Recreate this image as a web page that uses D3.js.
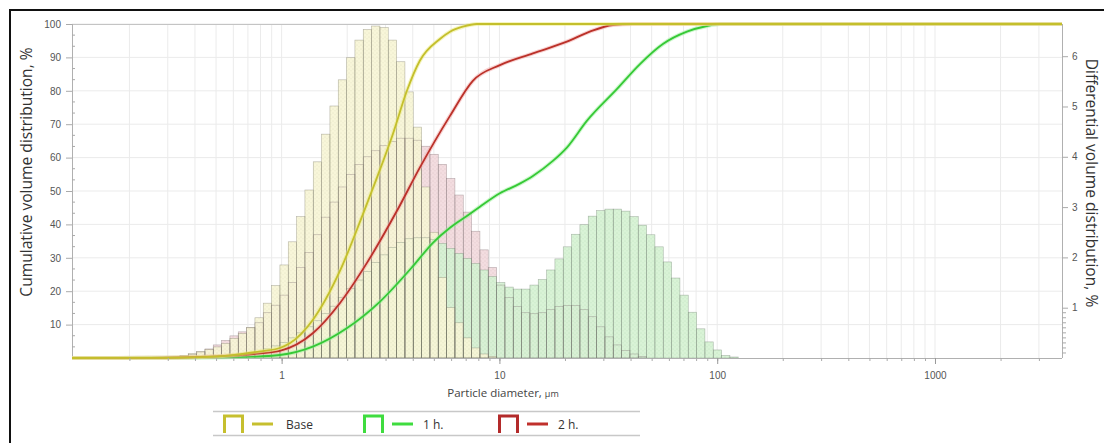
<!DOCTYPE html>
<html>
<head>
<meta charset="utf-8">
<script src="https://cdn.jsdelivr.net/npm/d3@7"></script>
<style>
  body { margin: 0; background: #fff; }
  svg { display: block; font-family: "Open Sans", sans-serif; }
</style>
</head>
<body>
<svg id="chart"></svg>
<script>
// size classes: lower edge of the first class and the ratio between classes
var binStart = 0.3412,
    binRatio = 1.0921;

// differential volume, % per class (67 classes)
var baseDiff = [0.05,0.09,0.13,0.17,0.22,0.29,0.39,0.49,0.61,0.80,1.09,1.44,1.85,2.31,2.81,3.34,3.90,4.45,5.01,5.53,
  5.97,6.32,6.53,6.60,6.57,6.32,5.89,5.29,4.59,3.40,2.50,1.60,1.00,0.70,0.40,0.20,0.08,0.03,
  0,0,0,0,0,0,0,0,0,0,0,0,0,0,0,0,0,0,0,0,0,0,0,0,0,0,0,0,0];
var h1Diff = [0.01,0.01,0.02,0.02,0.02,0.03,0.04,0.06,0.09,0.13,0.18,0.24,0.31,0.40,0.50,0.62,0.74,0.88,1.03,1.20,
  1.38,1.55,1.72,1.90,2.05,2.20,2.30,2.37,2.39,2.39,2.36,2.28,2.18,2.08,1.98,1.88,1.75,1.62,1.50,1.41,
  1.37,1.37,1.45,1.56,1.75,1.97,2.21,2.46,2.65,2.82,2.93,2.96,2.96,2.92,2.81,2.64,2.45,2.21,1.91,1.59,
  1.25,0.91,0.58,0.32,0.16,0.05,0.02];
var h2Diff = [0.04,0.07,0.12,0.18,0.26,0.35,0.44,0.52,0.60,0.70,0.90,1.05,1.25,1.50,1.80,2.10,2.45,2.80,3.10,3.40,
  3.65,3.85,4.00,4.12,4.22,4.30,4.37,4.37,4.33,4.21,4.05,3.85,3.57,3.24,2.90,2.52,2.15,1.80,1.45,1.20,
  1.02,0.90,0.88,0.90,0.96,1.02,1.04,1.04,0.96,0.82,0.62,0.42,0.26,0.15,0.08,0.03,
  0,0,0,0,0,0,0,0,0,0,0];

// cumulative volume, %
var baseCumD = [0.109,0.25,0.38,0.58,0.80,0.98,1.09,1.39,1.85,2.36,2.74,3.24,3.76,4.31,5.33,5.93,6.80,7.88,3830];
var baseCumV = [0,0.05,0.2,0.8,2.0,3.0,4.4,11.4,26,43,54,67,80,89,95.5,97.7,99.2,100,100];
var h1CumD = [0.109,0.34,0.72,0.98,1.39,1.99,2.83,4.01,4.95,5.93,7.09,8.14,10.05,12.4,14.25,17.6,20.4,25.2,34.6,44.2,56.3,72.6,89.7,103,3830];
var h1CumV = [0,0.1,0.4,0.9,3.4,8.9,16.9,27.5,34.5,39,42.5,45.3,49.3,52.2,54.5,59,63,71,80.5,88,94,97.7,99.4,100,100];
var h2CumD = [0.109,0.25,0.42,0.58,0.80,0.98,1.39,1.85,2.46,3.38,4.31,5.93,7.55,10.05,14.25,20.4,26.0,33.2,41.0,3830];
var h2CumV = [0,0.05,0.3,0.7,1.4,2.1,7.4,16.4,28.4,44,57,72.5,83,87.7,91.2,94.7,97.7,99.7,100,100];

var xTicks = [1, 10, 100, 1000];
var yTicks = [10, 20, 30, 40, 50, 60, 70, 80, 90, 100];
var y2Ticks = [1, 2, 3, 4, 5, 6];

var seriesNames = ["Base", "1 h.", "2 h."];

var w = 1104, h = 443;
var plotL = 72, plotR = 1062, plotT = 24, plotB = 358;

var svg = d3.select("#chart").attr("width", w).attr("height", h);

var x = d3.scaleLog().domain([0.109, 3830]).range([plotL, plotR]);
var y = d3.scaleLinear().domain([0, 100]).range([plotB, plotT]);
var y2 = d3.scaleLinear().domain([0, 6.64]).range([plotB, plotT]);

// minor positions 1..9 per decade
var minor = [];
[0.1, 1, 10, 100, 1000].forEach(function(dec){
  for (var m = 1; m < 10; m++) {
    var v = dec * m;
    if (v > 0.109 && v < 3830) minor.push(v);
  }
});

// dotted fills
var defs = svg.append("defs");
function dots(id, bg, dot) {
  var p = defs.append("pattern").attr("id", id)
    .attr("patternUnits", "userSpaceOnUse").attr("width", 4).attr("height", 4);
  p.append("rect").attr("width", 4).attr("height", 4).attr("fill", bg);
  p.append("circle").attr("cx", 1).attr("cy", 1).attr("r", 0.45).attr("fill", dot);
  p.append("circle").attr("cx", 3).attr("cy", 2.8).attr("r", 0.4).attr("fill", dot);
}
dots("pBase", "#f7f5d6", "#d0cca2");
dots("p1h", "#d6f2d3", "#9dcd9d");
dots("p2h", "#f2dadd", "#c9a3a9");

// outer frame
svg.append("line").attr("x1", 9).attr("x2", w).attr("y1", 10).attr("y2", 10)
  .attr("stroke", "#111").attr("stroke-width", 2);
svg.append("line").attr("x1", 10).attr("x2", 10).attr("y1", 10).attr("y2", h)
  .attr("stroke", "#111").attr("stroke-width", 2);

// grid
var grid = svg.append("g").attr("class", "grid");
grid.selectAll(".vg").data(minor).enter().append("line")
  .attr("x1", function(d){ return x(d); }).attr("x2", function(d){ return x(d); })
  .attr("y1", plotT).attr("y2", plotB)
  .attr("stroke", "#ebebeb").attr("stroke-width", 1);
grid.selectAll(".hg").data(yTicks).enter().append("line")
  .attr("x1", plotL).attr("x2", plotR)
  .attr("y1", function(d){ return y(d); }).attr("y2", function(d){ return y(d); })
  .attr("stroke", "#ebebeb").attr("stroke-width", 1);

// histogram bars: fills first (2 h., 1 h., Base on top), outlines of all after
function bins(vals) {
  return vals.map(function(v, i){
    return { x0: binStart * Math.pow(binRatio, i), x1: binStart * Math.pow(binRatio, i + 1), v: v };
  }).filter(function(d){ return d.v > 0; });
}
function bars(vals, fill, stroke) {
  svg.append("g").selectAll("rect").data(bins(vals)).enter().append("rect")
    .attr("x", function(d){ return x(d.x0); })
    .attr("width", function(d){ return x(d.x1) - x(d.x0); })
    .attr("y", function(d){ return y2(d.v); })
    .attr("height", function(d){ return plotB - y2(d.v); })
    .attr("fill", fill).attr("fill-opacity", 0.92)
    .attr("stroke", stroke).attr("stroke-opacity", 0.55).attr("stroke-width", 0.6);
}
bars(h2Diff, "url(#p2h)", "none");
bars(h1Diff, "url(#p1h)", "none");
bars(baseDiff, "url(#pBase)", "none");
bars(h2Diff, "none", "#806f72");
bars(h1Diff, "none", "#6f806f");
bars(baseDiff, "none", "#7c7a66");

// axes frame
svg.append("line").attr("x1", plotL).attr("x2", plotR).attr("y1", plotT + 0.5).attr("y2", plotT + 0.5)
  .attr("stroke", "#c4c4c4");
svg.append("line").attr("x1", plotL).attr("x2", plotR).attr("y1", plotB + 0.5).attr("y2", plotB + 0.5)
  .attr("stroke", "#b0b0b0");
svg.append("line").attr("x1", plotL + 0.5).attr("x2", plotL + 0.5).attr("y1", plotT).attr("y2", plotB)
  .attr("stroke", "#b0b0b0");
svg.append("line").attr("x1", plotR + 0.5).attr("x2", plotR + 0.5).attr("y1", plotT).attr("y2", plotB)
  .attr("stroke", "#b0b0b0");

// cumulative curves
var line = d3.line()
  .x(function(d){ return x(d[0]); })
  .y(function(d){ return y(d[1]); })
  .curve(d3.curveMonotoneX);
function curve(ds, vs, halo, col) {
  var pts = ds.map(function(d, i){ return [d, vs[i]]; });
  svg.append("path").datum(pts).attr("d", line).attr("fill", "none")
    .attr("stroke", halo).attr("stroke-width", 4).attr("stroke-opacity", 0.5);
  svg.append("path").datum(pts).attr("d", line).attr("fill", "none")
    .attr("stroke", col).attr("stroke-width", 1.8);
}
curve(h1CumD, h1CumV, "#9af09a", "#36c936");
curve(h2CumD, h2CumV, "#f2a8a8", "#bb3129");
curve(baseCumD, baseCumV, "#ecec80", "#c4bf2c");

// left axis
var yAxis = d3.axisLeft(y).tickValues(yTicks).tickSize(6).tickPadding(5).tickFormat(d3.format("d"));
var gy = svg.append("g").attr("transform", "translate(" + plotL + ",0)").call(yAxis);
gy.select(".domain").remove();
gy.selectAll(".tick line").attr("stroke", "#aaa");
gy.selectAll("text").attr("fill", "#555").attr("font-size", 10);
var yMinor = [];
yTicks.concat([0]).forEach(function(t){ if (t < 100) { yMinor.push(t + 10 / 3); yMinor.push(t + 20 / 3); } });
svg.append("g").selectAll("line").data(yMinor).enter().append("line")
  .attr("x1", plotL).attr("x2", plotL + 3)
  .attr("y1", function(d){ return y(d); }).attr("y2", function(d){ return y(d); })
  .attr("stroke", "#aaa");

// right axis
var y2Axis = d3.axisRight(y2).tickValues(y2Ticks).tickSize(6).tickPadding(4).tickFormat(d3.format("d"));
var gy2 = svg.append("g").attr("transform", "translate(" + plotR + ",0)").call(y2Axis);
gy2.select(".domain").remove();
gy2.selectAll(".tick line").attr("stroke", "#aaa");
gy2.selectAll("text").attr("fill", "#555").attr("font-size", 10);
svg.append("g").selectAll("line").data(d3.range(1, 10).map(function(i){ return i / 10; }))
  .enter().append("line")
  .attr("x1", plotR).attr("x2", plotR + 4)
  .attr("y1", function(d){ return y2(d); }).attr("y2", function(d){ return y2(d); })
  .attr("stroke", "#aaa");

// bottom axis
var xAxisMinor = d3.axisBottom(x).tickValues(minor).tickSize(3).tickFormat("");
var gxm = svg.append("g").attr("transform", "translate(0," + plotB + ")").call(xAxisMinor);
gxm.select(".domain").remove();
gxm.selectAll(".tick line").attr("stroke", "#aaa");
var xAxis = d3.axisBottom(x).tickValues(xTicks).tickSize(6).tickPadding(8).tickFormat(d3.format("d"));
var gx = svg.append("g").attr("transform", "translate(0," + plotB + ")").call(xAxis);
gx.select(".domain").remove();
gx.selectAll(".tick line").attr("stroke", "#999");
gx.selectAll("text").attr("fill", "#555").attr("font-size", 10);

// axis titles
svg.append("text").attr("transform", "translate(32,172) rotate(-90)")
  .attr("text-anchor", "middle").attr("font-size", 15.6).attr("fill", "#333")
  .text("Cumulative volume distribution, %");
svg.append("text").attr("transform", "translate(1086,183) rotate(90)")
  .attr("text-anchor", "middle").attr("font-size", 15.6).attr("fill", "#333")
  .text("Differential volume distribution, %");
var xt = svg.append("text").attr("x", 503).attr("y", 397)
  .attr("text-anchor", "middle").attr("font-size", 11.5).attr("fill", "#444");
xt.append("tspan").text("Particle diameter, ");
xt.append("tspan").attr("font-size", 9).text("µm");

// legend
var lg = svg.append("g");
lg.append("line").attr("x1", 213).attr("x2", 640).attr("y1", 411.5).attr("y2", 411.5)
  .attr("stroke", "#c8c8c8").attr("stroke-width", 1.5);
lg.append("line").attr("x1", 213).attr("x2", 640).attr("y1", 435.5).attr("y2", 435.5)
  .attr("stroke", "#c8c8c8").attr("stroke-width", 1.5);
var legendItems = [
  { name: seriesNames[0], icon: "#c6bf2e", line: "#c6bf2e", x: 223 },
  { name: seriesNames[1], icon: "#3fdc3f", line: "#3fdc3f", x: 363 },
  { name: seriesNames[2], icon: "#b32a2a", line: "#c0302c", x: 498 }
];
var li = lg.selectAll(".item").data(legendItems).enter().append("g")
  .attr("transform", function(d){ return "translate(" + d.x + ",0)"; });
li.append("path").attr("d", "M1.5,433 V416 H19.5 V433")
  .attr("fill", "none").attr("stroke", function(d){ return d.icon; }).attr("stroke-width", 3);
li.append("line").attr("x1", 29).attr("x2", 50).attr("y1", 424).attr("y2", 424)
  .attr("stroke", function(d){ return d.line; }).attr("stroke-width", 3);
li.append("text").attr("x", function(d, i){ return i === 0 ? 63 : 60; }).attr("y", 428.5)
  .attr("font-size", 12).attr("fill", "#333")
  .text(function(d){ return d.name; });
</script>
</body>
</html>
